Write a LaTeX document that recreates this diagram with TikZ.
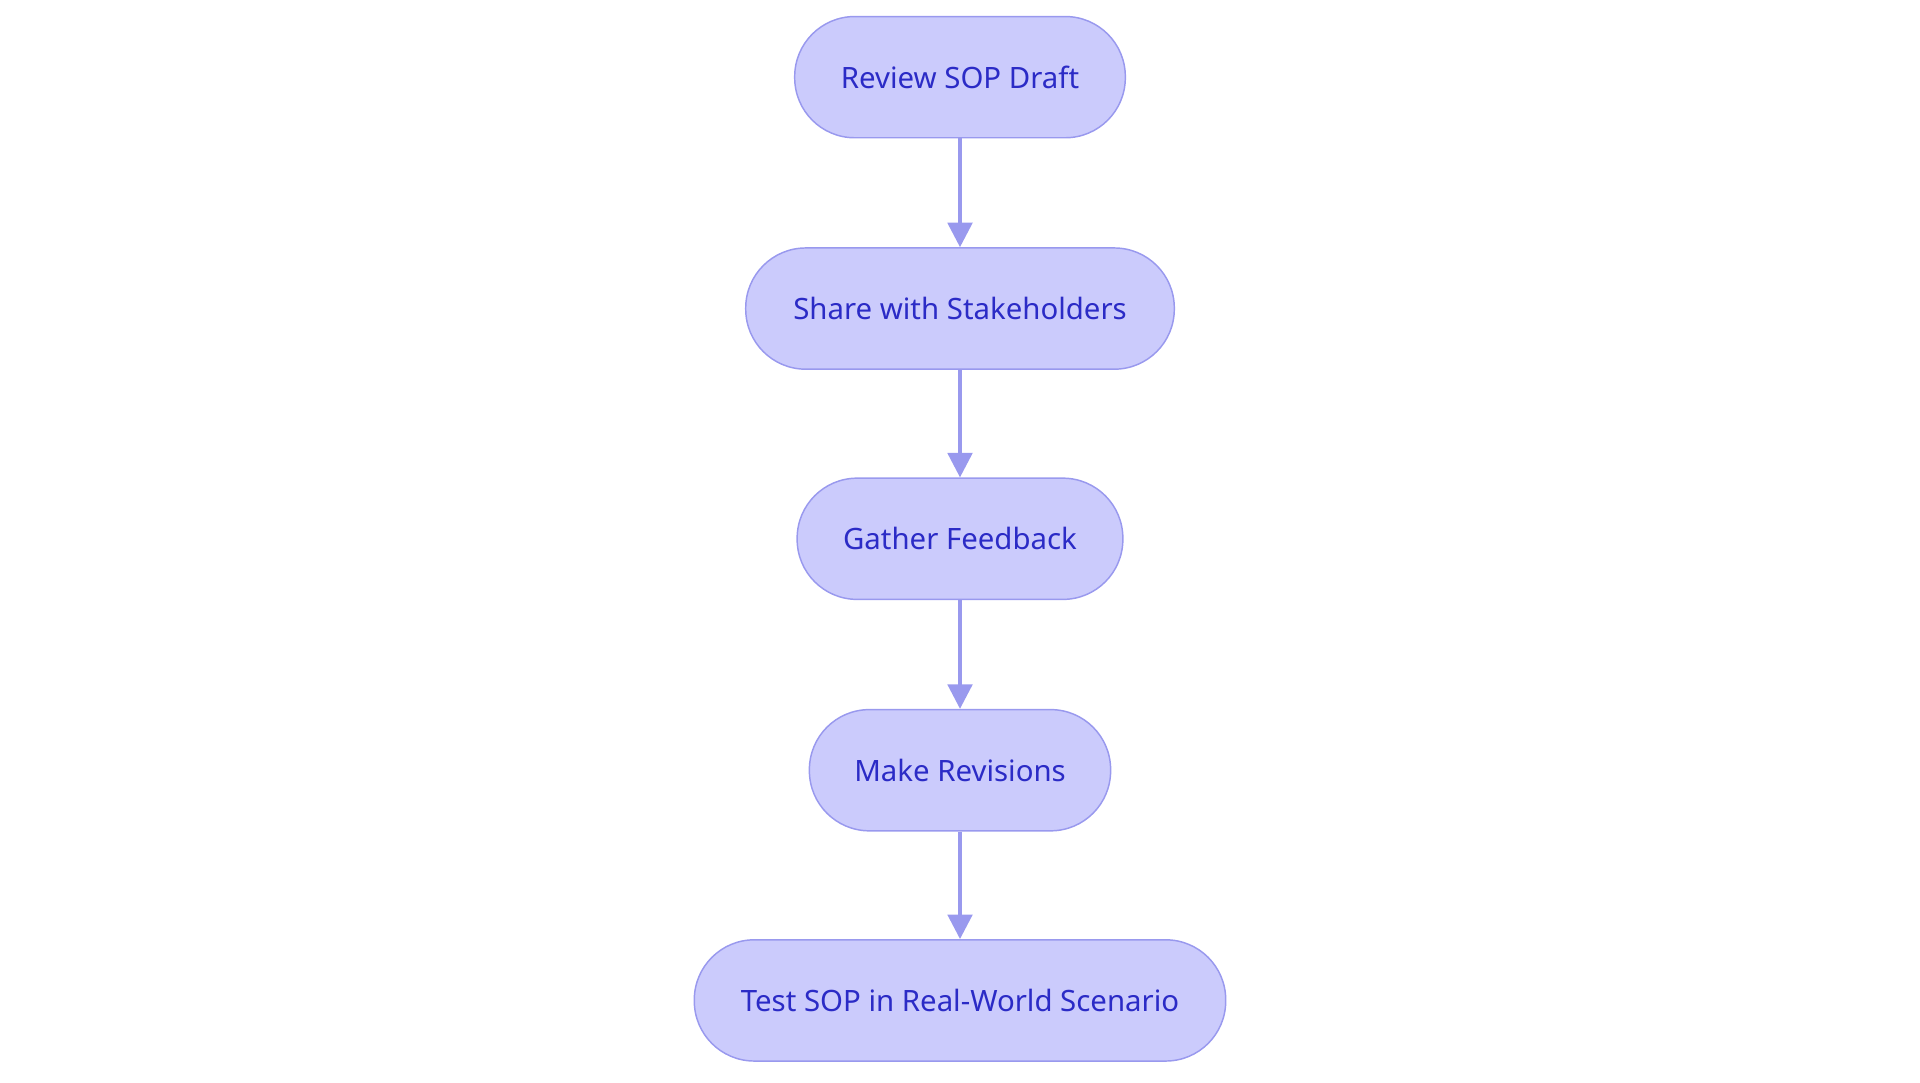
\documentclass[tikz,border=0pt]{standalone}
\usepackage{fontspec}
\setmainfont{Noto Sans}
\usetikzlibrary{arrows.meta}
\definecolor{nfill}{HTML}{CBCBFC}
\definecolor{nline}{HTML}{9999EE}
\definecolor{ntext}{HTML}{2B2BC6}
\begin{document}
\begin{tikzpicture}[x=0.5pt,y=-0.5pt,
  box/.style={draw=nline,fill=nfill,line width=0.6pt,rounded corners=24.5pt,minimum height=49.5pt,text=ntext,font=\fontsize{12}{14}\selectfont,inner sep=0pt},
  arr/.style={draw=nline,line width=1.5pt,-{Triangle[length=10pt,width=10pt]}}]
\useasboundingbox (0,0) rectangle (1568,884);
\node[box,minimum width=135pt] (a) at (784,63) {Review SOP Draft};
\node[box,minimum width=175pt] (b) at (784,252) {Share with Stakeholders};
\node[box,minimum width=133pt] (c) at (784,440) {Gather Feedback};
\node[box,minimum width=123pt] (d) at (784,629) {Make Revisions};
\node[box,minimum width=217pt] (e) at (784,817) {Test SOP in Real-World Scenario};
\draw[arr] (a) -- (b);
\draw[arr] (b) -- (c);
\draw[arr] (c) -- (d);
\draw[arr] (d) -- (e);
\end{tikzpicture}
\end{document}
